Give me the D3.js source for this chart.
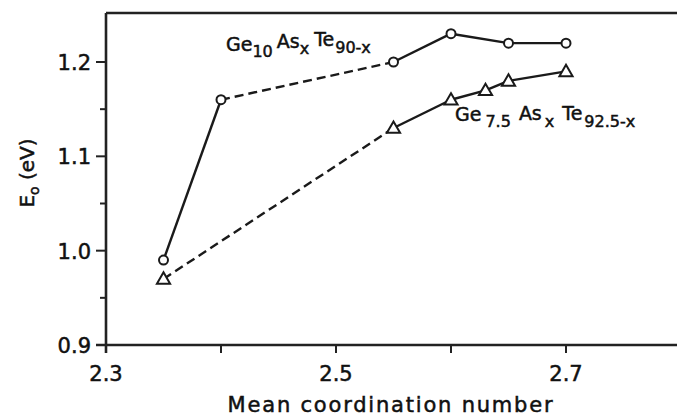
<!DOCTYPE html>
<html>
<head>
<meta charset="utf-8">
<script src="https://cdn.jsdelivr.net/npm/d3@7"></script>
<style>
  body { margin: 0; background: #fff; }
  text { font-family: "DejaVu Sans", sans-serif; fill: #111; }
</style>
</head>
<body>
<div id="chart"></div>
<script>
// values
var coordGe10 = [2.35, 2.40, 2.55, 2.60, 2.65, 2.70];
var eoGe10    = [0.99, 1.16, 1.20, 1.23, 1.22, 1.22];
var coordGe75 = [2.35, 2.55, 2.60, 2.63, 2.65, 2.70];
var eoGe75    = [0.97, 1.13, 1.16, 1.17, 1.18, 1.19];
// index of the segment drawn dashed (segment i joins point i and i+1)
var dashedGe10 = [1];
var dashedGe75 = [0];
var xTicks = [2.3, 2.4, 2.5, 2.6, 2.7];
var xLabels = [2.3, 2.5, 2.7];
var yTicks = [0.9, 1.0, 1.1, 1.2];
var yMinor = [0.95, 1.05, 1.15];

var W = 677, H = 418;
var margin = {top: 13, right: 0, bottom: 73, left: 106},
width = W - margin.left - margin.right,
height = H - margin.top - margin.bottom;

var svg = d3.select("#chart").append("svg")
  .attr("width", W).attr("height", H);

var g = svg.append("g")
  .attr("transform", "translate(" + margin.left + "," + margin.top + ")");

var x = d3.scaleLinear().domain([2.3, 2.7]).range([0, 460]);
var y = d3.scaleLinear().domain([0.9, 1.2]).range([height, height - 283]);

// axes frame (left, top, bottom; right side open)
g.append("line").attr("x1", 0).attr("x2", 0).attr("y1", 0).attr("y2", height + 8)
  .attr("stroke", "#222").attr("stroke-width", 2.6);
g.append("line").attr("x1", 0).attr("x2", width).attr("y1", 0).attr("y2", 0)
  .attr("stroke", "#222").attr("stroke-width", 2.6);
g.append("line").attr("x1", -10).attr("x2", width).attr("y1", height).attr("y2", height)
  .attr("stroke", "#222").attr("stroke-width", 2.6);

// x ticks
g.selectAll(".xt").data(xTicks).enter().append("line")
  .attr("x1", d => x(d)).attr("x2", d => x(d))
  .attr("y1", height).attr("y2", height + 8)
  .attr("stroke", "#222").attr("stroke-width", 2);
g.selectAll(".xl").data(xLabels).enter().append("text")
  .attr("x", d => x(d)).attr("y", height + 36)
  .attr("text-anchor", "middle").attr("font-size", 21)
  .attr("stroke", "#111").attr("stroke-width", 0.5)
  .text(d => d3.format(".1f")(d));

// y ticks
g.selectAll(".yt").data(yTicks).enter().append("line")
  .attr("x1", -10).attr("x2", 0)
  .attr("y1", d => y(d)).attr("y2", d => y(d))
  .attr("stroke", "#222").attr("stroke-width", 2);
g.selectAll(".ym").data(yMinor).enter().append("line")
  .attr("x1", -6).attr("x2", 0)
  .attr("y1", d => y(d)).attr("y2", d => y(d))
  .attr("stroke", "#222").attr("stroke-width", 2);
g.selectAll(".yl").data(yTicks).enter().append("text")
  .attr("x", -15).attr("y", d => y(d) + 8)
  .attr("text-anchor", "end").attr("font-size", 21)
  .attr("stroke", "#111").attr("stroke-width", 0.5)
  .text(d => d3.format(".1f")(d));

// axis titles
svg.append("text")
  .attr("x", 391).attr("y", 412)
  .attr("text-anchor", "middle").attr("font-size", 21)
  .attr("letter-spacing", 1.8)
  .attr("stroke", "#111").attr("stroke-width", 0.5)
  .text("Mean  coordination  number");

var yt = svg.append("text")
  .attr("transform", "translate(34,173) rotate(-90)")
  .attr("text-anchor", "middle").attr("font-size", 20)
  .attr("stroke", "#111").attr("stroke-width", 0.5);
yt.append("tspan").text("E");
yt.append("tspan").attr("font-size", 14).attr("dy", 5).text("o");
yt.append("tspan").attr("dy", -5).text(" (eV)");

function drawSeries(xs, ys, dashed) {
  var pts = xs.map((d, i) => [x(d), y(ys[i])]);
  for (var i = 0; i < pts.length - 1; i++) {
    g.append("line")
      .attr("x1", pts[i][0]).attr("y1", pts[i][1])
      .attr("x2", pts[i + 1][0]).attr("y2", pts[i + 1][1])
      .attr("stroke", "#1a1a1a").attr("stroke-width", 2.4)
      .attr("stroke-dasharray", dashed.indexOf(i) >= 0 ? "9,5" : null);
  }
  return pts;
}

var p1 = drawSeries(coordGe10, eoGe10, dashedGe10);
var p2 = drawSeries(coordGe75, eoGe75, dashedGe75);

g.selectAll(".c").data(p1).enter().append("circle")
  .attr("cx", d => d[0]).attr("cy", d => d[1]).attr("r", 4.5)
  .attr("fill", "#fff").attr("stroke", "#1a1a1a").attr("stroke-width", 2);

var tri = d3.symbol().type(d3.symbolTriangle).size(75);
g.selectAll(".t").data(p2).enter().append("path")
  .attr("d", tri)
  .attr("transform", d => "translate(" + d[0] + "," + (d[1] + 1) + ")")
  .attr("fill", "#fff").attr("stroke", "#1a1a1a").attr("stroke-width", 2);

// series labels
function label(xp, yp, parts) {
  var t = svg.append("text").attr("x", xp).attr("y", yp)
    .attr("stroke", "#111").attr("stroke-width", 0.5);
  parts.forEach(function(p) {
    t.append("tspan").attr("font-size", p[1] ? 16 : 19)
      .attr("dy", p[2]).attr("dx", p[3] || 0).text(p[0]);
  });
}
label(226, 51, [["Ge", 0, 0], ["10", 1, 6], ["As", 0, -9, 4], ["x", 1, 6], ["Te", 0, -8, 5], ["90-x", 1, 7, 1]]);
label(455, 121, [["Ge", 0, 0], ["7.5", 1, 6, 4], ["As", 0, -7, 8], ["x", 1, 7, 3], ["Te", 0, -7, 8], ["92.5-x", 1, 7, 2]]);
</script>
</body>
</html>
